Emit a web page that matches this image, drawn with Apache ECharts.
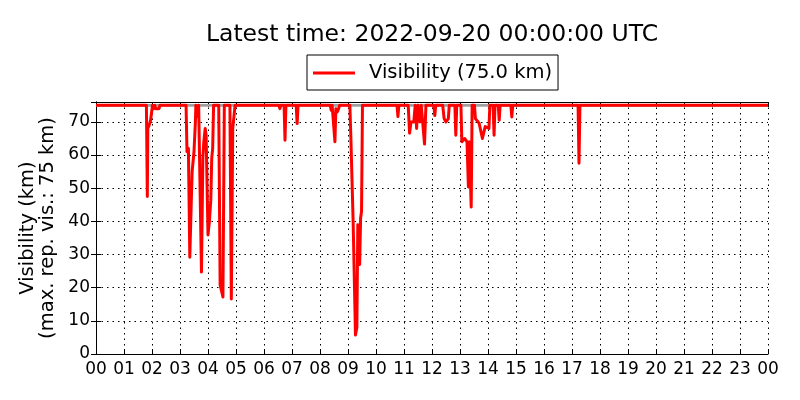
<!DOCTYPE html>
<html>
<head>
<meta charset="utf-8">
<script src="https://cdn.jsdelivr.net/npm/echarts@6/dist/echarts.min.js"></script>
<style>
html, body { margin: 0; padding: 0; background: #fff; }
#chart { width: 800px; height: 400px; }
</style>
</head>
<body>
<div id="chart"></div>
<script>
// x tick labels (hours of the day)
var hourLabels = ['00', '01', '02', '03', '04', '05', '06', '07', '08', '09', '10', '11',
                  '12', '13', '14', '15', '16', '17', '18', '19', '20', '21', '22', '23', '00'];
var yTicks = [0, 10, 20, 30, 40, 50, 60, 70];

// observation times (UTC) and visibility (km)
var times = [
    '00:00', '01:48', '01:50', '01:51', '01:54', '01:57', '02:00', '02:01', '02:04', '02:06', '02:08', '02:12', '02:15', '02:17',
    '03:13', '03:15', '03:18', '03:21', '03:24', '03:26', '03:30', '03:33', '03:34', '03:38', '03:39', '03:40',
    '03:43', '03:46', '03:49', '03:51', '03:54', '03:56', '04:00', '04:03', '04:06', '04:08', '04:10', '04:12',
    '04:23', '04:26', '04:29', '04:32', '04:35', '04:47', '04:50', '04:53', '04:56', '04:58',
    '06:32', '06:34', '06:36', '06:43', '06:45', '06:47', '07:09', '07:11', '07:13',
    '08:22', '08:24', '08:26', '08:30', '08:32', '08:34', '08:37', '08:40', '08:42',
    '09:04', '09:06', '09:11', '09:16', '09:19', '09:21', '09:25', '09:27', '09:29', '09:31',
    '10:45', '10:47', '10:49', '11:09', '11:12', '11:15', '11:21', '11:24', '11:27', '11:30', '11:34', '11:37',
    '11:40', '11:44', '11:47', '12:04', '12:06', '12:08', '12:23', '12:26', '12:30', '12:32', '12:35', '12:37',
    '12:49', '12:51', '12:53', '13:02', '13:04', '13:10', '13:15', '13:18', '13:20', '13:24', '13:26',
    '13:31', '13:33', '13:37', '13:41', '13:45', '13:48', '13:51', '13:54', '13:58', '14:02', '14:04',
    '14:11', '14:13', '14:15', '14:22', '14:24', '14:26', '14:49', '14:51', '14:53',
    '17:13', '17:15', '17:17', '24:00'
];
var visKm = [
    75, 75, 47.5, 68, 69, 70.5, 70.5, 75, 74, 75, 74, 74.5, 74, 75,
    75, 61, 62, 29.2, 45, 55, 61, 70, 75, 75, 71.5, 75,
    75, 24.7, 59, 64, 68, 66, 35.9, 40, 46.4, 59, 62, 75,
    75, 20.8, 21, 17.2, 75, 75, 16.6, 68, 68, 75,
    75, 74, 75, 75, 64.5, 75, 75, 69.5, 75,
    75, 73.5, 75, 75, 64, 74, 73, 74, 75,
    75, 66, 40, 5.7, 8, 39, 27, 41, 43, 75,
    75, 71.6, 75, 75, 66.6, 70, 70, 75, 68, 75, 70, 75,
    75, 63.3, 75, 75, 71.9, 75, 75, 71, 70, 69.6, 71, 75,
    75, 66, 75, 75, 64, 65, 64, 50.4, 64, 44.3, 75,
    75, 71, 70.5, 69.6, 70, 65, 65, 68.6, 68, 68, 75,
    75, 66, 75, 75, 70.5, 75, 75, 71.5, 75,
    75, 57.5, 75, 75
];
var maxRepVis = 75;

function toHours(t) {
    var p = t.split(':');
    return Number(p[0]) + Number(p[1]) / 60;
}

var visData = times.map(function(t, i) { return [toHours(t), visKm[i]]; });
var maxData = [[0, maxRepVis], [24, maxRepVis]];

var font = 'DejaVu Sans';

function xAxisDef(pos, labels) {
    return {
        type: 'value', position: pos, min: 0, max: 24, interval: 1,
        axisLine: { show: true, onZero: false, lineStyle: { color: '#000', width: 1 } },
        axisTick: { show: true, inside: true, length: 5, lineStyle: { color: '#000' } },
        axisLabel: {
            show: labels, color: '#000', fontFamily: font, fontSize: 17, margin: 7,
            formatter: function(v) { return hourLabels[Math.round(v)]; }
        },
        splitLine: pos === 'bottom' ? { show: true, lineStyle: { color: '#000', type: [1.5, 4], width: 1 } } : { show: false }
    };
}

function yAxisDef(pos, labels) {
    var ax = {
        type: 'value', position: pos, min: 0, max: 76, interval: 10,
        axisLine: { show: true, lineStyle: { color: '#000', width: 1 } },
        axisTick: { show: true, inside: true, length: 5, lineStyle: { color: '#000' } },
        axisLabel: {
            show: labels, color: '#000', fontFamily: font, fontSize: 17, margin: 6,
            formatter: function(v) { return yTicks.indexOf(v) >= 0 ? String(v) : ''; }
        },
        splitLine: pos === 'left' ? { show: true, lineStyle: { color: '#000', type: [1.5, 4], width: 1 } } : { show: false }
    };
    if (labels) {
        ax.name = 'Visibility (km)\n(max. rep. vis.: 75 km)';
        ax.nameLocation = 'middle';
        ax.nameRotate = 90;
        ax.nameGap = 25;
        ax.nameTextStyle = { color: '#000', fontFamily: font, fontSize: 19.5, lineHeight: 20 };
    }
    return ax;
}

var option = {
    backgroundColor: '#fff',
    animation: false,
    title: {
        text: 'Latest time: 2022-09-20 00:00:00 UTC',
        left: 432, top: 23, textAlign: 'center', padding: 0,
        textStyle: { color: '#000', fontFamily: font, fontSize: 23.5, fontWeight: 'normal' }
    },
    legend: {
        data: [{ name: 'Visibility (75.0 km)', icon: 'rect' }],
        left: 307, top: 55,
        padding: [8, 6, 7, 6],
        itemWidth: 42, itemHeight: 3,
        borderColor: '#000', borderWidth: 1, borderRadius: 0,
        textStyle: { color: '#000', fontFamily: font, fontSize: 19.5, padding: [0, 0, 0, 9] }
    },
    grid: { left: 96, right: 32, top: 102, bottom: 46, containLabel: false },
    xAxis: [xAxisDef('bottom', true), xAxisDef('top', false)],
    yAxis: [yAxisDef('left', true), yAxisDef('right', false)],
    series: [
        {
            name: 'max', type: 'line', data: maxData, symbol: 'none', silent: true,
            lineStyle: { color: '#a0a0a0', width: 2.8 }, z: 2
        },
        {
            name: 'Visibility (75.0 km)', type: 'line', data: visData, symbol: 'none',
            lineStyle: { color: '#ff0000', width: 3, join: 'round' }, itemStyle: { color: '#ff0000' }, z: 3
        }
    ]
};

var myChart = echarts.init(document.getElementById('chart'));
myChart.setOption(option);
</script>
</body>
</html>
